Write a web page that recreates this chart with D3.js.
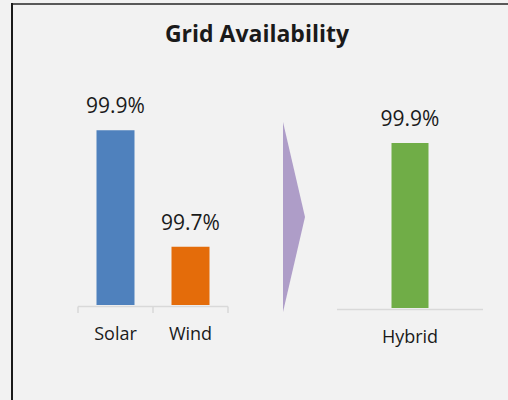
<!DOCTYPE html>
<html>
<head>
<meta charset="utf-8">
<script src="https://cdn.jsdelivr.net/npm/d3@7"></script>
<style>
  html, body { margin: 0; padding: 0; background: #f2f2f2; }
  svg { display: block; }
  text { font-family: "Open Sans", sans-serif; fill: #1a1a1a; }
</style>
</head>
<body>
<div id="chart"></div>
<script>
// data
var leftCats = ["Solar", "Wind"];
var leftVals = [99.9, 99.7];
var leftColors = ["#4f81bd", "#e46c0a"];

var rightCats = ["Hybrid"];
var rightVals = [99.9];
var rightColors = ["#70ad47"];

var valueDomain = [99.6, 100];

var W = 508, H = 400;
var svg = d3.select("#chart").append("svg").attr("width", W).attr("height", H);

svg.append("rect").attr("width", W).attr("height", H).attr("fill", "#f2f2f2");

// frame (left + top)
svg.append("line").attr("x1", 11).attr("x2", W).attr("y1", 4).attr("y2", 4)
    .attr("stroke", "#595959").attr("stroke-width", 2);
svg.append("line").attr("x1", 12).attr("x2", 12).attr("y1", 3).attr("y2", H)
    .attr("stroke", "#1a1a1a").attr("stroke-width", 2);

svg.append("text").attr("x", 257).attr("y", 42).attr("text-anchor", "middle")
    .style("font-size", "23px").style("font-weight", "bold").text("Grid Availability");

function barPanel(cats, vals, colors, x0, x1, base, top, ticks, labelY) {
    var p = 1 - 0.507;
    var x = d3.scaleBand().domain(cats).range([x0, x1]);
    var step = (x1 - x0) / cats.length;
    var bw = ticks ? 38 : 37;
    var pi = 1 - bw / step;
    x.paddingInner(pi).paddingOuter(pi / 2);
    var y = d3.scaleLinear().domain(valueDomain).range([base, top]);

    var g = svg.append("g");
    g.selectAll("rect.bar").data(vals).enter().append("rect")
        .attr("class", "bar")
        .attr("x", function(d, i) { return x(cats[i]); })
        .attr("width", x.bandwidth())
        .attr("y", function(d) { return y(d); })
        .attr("height", function(d) { return base - y(d); })
        .attr("fill", function(d, i) { return colors[i]; });

    g.selectAll("text.val").data(vals).enter().append("text")
        .attr("class", "val")
        .attr("x", function(d, i) { return x(cats[i]) + x.bandwidth() / 2; })
        .attr("y", function(d) { return y(d) - 17; })
        .attr("text-anchor", "middle")
        .style("font-size", "21px")
        .text(function(d) { return d3.format(".1f")(d) + "%"; });

    // category axis line
    g.append("line").attr("x1", x0).attr("x2", x1).attr("y1", base + 1.5).attr("y2", base + 1.5)
        .attr("stroke", "#d9d9d9").attr("stroke-width", 1.5);
    if (ticks) {
        var bounds = d3.range(cats.length + 1).map(function(i) { return x0 + i * step; });
        g.selectAll("line.tk").data(bounds).enter().append("line")
            .attr("class", "tk")
            .attr("x1", function(d) { return d; }).attr("x2", function(d) { return d; })
            .attr("y1", base + 1.5).attr("y2", base + 8)
            .attr("stroke", "#d9d9d9").attr("stroke-width", 1.5);
    }

    var ax = g.append("g").attr("transform", "translate(0," + labelY + ")")
        .call(d3.axisBottom(x).tickSize(0).tickPadding(0));
    ax.select(".domain").remove();
    ax.selectAll("text").attr("dy", 0).attr("y", 0)
        .style("font-size", "18px").style("font-family", "'Open Sans', sans-serif")
        .attr("fill", "#1a1a1a");
}

barPanel(leftCats, leftVals, leftColors, 78, 228, 305, 72, true, 340);
barPanel(rightCats, rightVals, rightColors, 337, 483, 308, 88, false, 343);

// transition arrow
svg.append("path")
    .attr("d", d3.line()([[283, 122], [305, 217], [283, 312]]) + "Z")
    .attr("fill", "#ae9dc8");
</script>
</body>
</html>
